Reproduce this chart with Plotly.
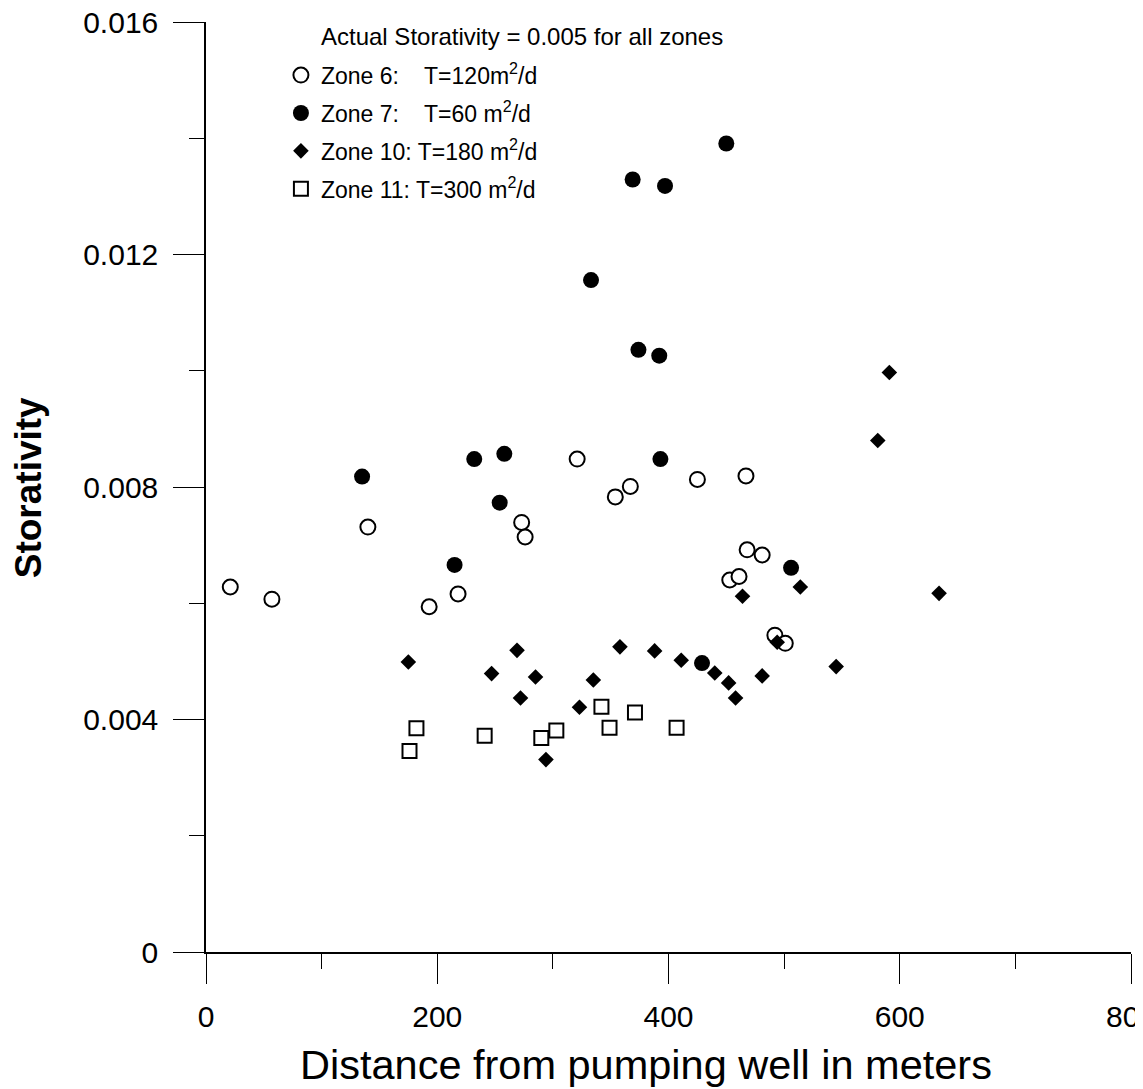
import plotly.graph_objects as go

# ---- data ----
zone6_x = [21, 57, 140, 193, 218, 273, 276, 321, 354, 367, 425, 467, 468, 453, 461, 481, 492, 501]
zone6_y = [0.00628, 0.00607, 0.00731, 0.00594, 0.00616, 0.00739, 0.00714, 0.00848, 0.00783, 0.00801,
           0.00813, 0.00819, 0.00692, 0.00640, 0.00646, 0.00683, 0.00545, 0.00531]

zone7_x = [135, 215, 232, 254, 258, 333, 369, 374, 392, 393, 397, 429, 450, 506]
zone7_y = [0.00818, 0.00666, 0.00848, 0.00773, 0.00857, 0.01156, 0.01329, 0.01036, 0.01026, 0.00848,
           0.01318, 0.00497, 0.01391, 0.00661]

zone10_x = [175, 247, 269, 272, 285, 294, 323, 335, 358, 388, 411, 440, 452, 458, 464, 481, 494, 514,
            545, 581, 591, 634]
zone10_y = [0.00499, 0.00479, 0.00519, 0.00437, 0.00473, 0.00331, 0.00421, 0.00468, 0.00525, 0.00518,
            0.00502, 0.00480, 0.00463, 0.00437, 0.00612, 0.00475, 0.00533, 0.00628, 0.00491, 0.00880,
            0.00997, 0.00617]

zone11_x = [176, 182, 241, 290, 303, 342, 349, 371, 407]
zone11_y = [0.00346, 0.00385, 0.00372, 0.00368, 0.00381, 0.00422, 0.00386, 0.00412, 0.00386]

x_ticks = [0, 200, 400, 600, 800]
x_minor = [100, 300, 500, 700]
y_ticks = [0, 0.004, 0.008, 0.012, 0.016]
y_ticklabels = ["0", "0.004", "0.008", "0.012", "0.016"]
y_minor = [0.002, 0.006, 0.010, 0.014]

names = [
    "Zone 6:    T=120m<sup>2</sup>/d",
    "Zone 7:    T=60 m<sup>2</sup>/d",
    "Zone 10: T=180 m<sup>2</sup>/d",
    "Zone 11: T=300 m<sup>2</sup>/d",
]
legend_title = "Actual Storativity = 0.005 for all zones"
x_title = "Distance from pumping well in meters"
y_title = "Storativity"

FONT = "Liberation Sans, Arial, Helvetica, sans-serif"

fig = go.Figure()
fig.add_trace(go.Scatter(x=zone6_x, y=zone6_y, mode="markers", name=names[0], legendgroup="a",
                         marker=dict(symbol="circle", size=15, color="white",
                                     line=dict(color="black", width=2))))
fig.add_trace(go.Scatter(x=zone7_x, y=zone7_y, mode="markers", name=names[1], legendgroup="b",
                         marker=dict(symbol="circle", size=16, color="black",
                                     line=dict(color="black", width=0))))
fig.add_trace(go.Scatter(x=zone10_x, y=zone10_y, mode="markers", name=names[2], legendgroup="c",
                         marker=dict(symbol="diamond", size=12, color="black",
                                     line=dict(color="black", width=0))))
fig.add_trace(go.Scatter(x=zone11_x, y=zone11_y, mode="markers", name=names[3], legendgroup="d",
                         marker=dict(symbol="square", size=14, color="white",
                                     line=dict(color="black", width=2))))

# page body has an 8px default margin: the figure is sized/margined to compensate
fig.update_layout(
    width=1135, height=1081,
    margin=dict(l=198, r=12, t=14, b=137, autoexpand=False),
    paper_bgcolor="white", plot_bgcolor="white",
    font=dict(family=FONT, color="black"),
    showlegend=True,
    legend=dict(x=0.081, xanchor="left", y=0.966, yanchor="top",
                bgcolor="rgba(0,0,0,0)", font=dict(size=23, family=FONT),
                tracegroupgap=5, itemsizing="trace"),
    xaxis=dict(range=[0, 800], tickvals=x_ticks, ticks="outside", ticklen=30, tickwidth=1.2,
               tickcolor="black", showline=True, linecolor="black", linewidth=1.5,
               showgrid=False, zeroline=False, tickfont=dict(size=30, family=FONT),
               ticklabelstandoff=7, ticklabeloverflow="allow",
               minor=dict(tickvals=x_minor, ticks="outside", ticklen=15, tickwidth=1.2,
                          tickcolor="black", showgrid=False)),
    yaxis=dict(range=[0, 0.016], tickvals=y_ticks, ticktext=y_ticklabels, ticks="outside",
               ticklen=31, tickwidth=1.2, tickcolor="black", showline=True, linecolor="black",
               linewidth=1.5, showgrid=False, zeroline=False, tickfont=dict(size=30, family=FONT),
               ticklabelstandoff=9, ticklabeloverflow="allow",
               minor=dict(tickvals=y_minor, ticks="outside", ticklen=15, tickwidth=1.2,
                          tickcolor="black", showgrid=False)),
    annotations=[
        dict(text=legend_title, xref="paper", yref="paper", x=0.122, y=0.984,
             xanchor="left", yanchor="middle", showarrow=False,
             font=dict(size=24, family=FONT)),
        dict(text=x_title, xref="paper", yref="paper", x=0.4757, y=-0.1215,
             xanchor="center", yanchor="middle", showarrow=False,
             font=dict(size=41.5, family=FONT)),
        dict(text="<b>" + y_title + "</b>", xref="paper", yref="paper", x=-0.191, y=0.499,
             xanchor="center", yanchor="middle", textangle=-90, showarrow=False,
             font=dict(size=37, family=FONT)),
    ],
)

fig.write_html("out.html")
